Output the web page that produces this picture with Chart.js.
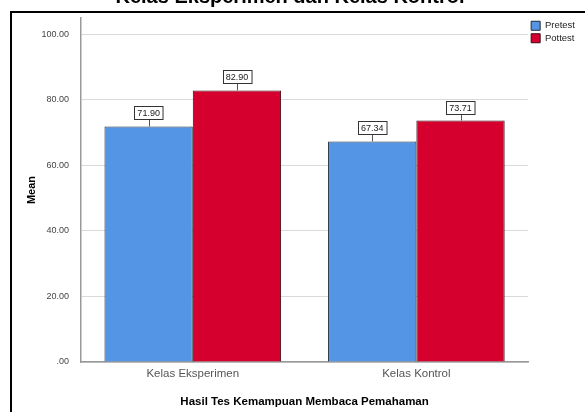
<!DOCTYPE html>
<html lang="en">
<head>
    <meta charset="UTF-8">
    <title>Kelas Eksperimen dan Kelas Kontrol</title>
    <script src="https://cdn.jsdelivr.net/npm/chart.js"></script>
    <style>
        html, body {
            margin: 0;
            padding: 0;
            background: #fff;
        }
        .wrap {
            width: 585px;
            height: 412px;
        }
    </style>
</head>
<body>
    <div class="wrap"><canvas id="meanChart" width="585" height="412"></canvas></div>
    <script>
        // values
        const groups = ['Kelas Eksperimen', 'Kelas Kontrol'];
        const pretest = [71.90, 67.34];
        const posttest = [82.90, 73.71];
        const seriesNames = ['Pretest', 'Pottest'];
        const yTicks = [0, 20, 40, 60, 80, 100];

        const FONT = 'Arial, "Liberation Sans", sans-serif';

        // outer frame + the title that got cut off at the top
        const framePlugin = {
            id: 'frame',
            beforeDraw(chart) {
                const ctx = chart.ctx;
                ctx.save();
                ctx.fillStyle = '#fff';
                ctx.fillRect(0, 0, chart.width, chart.height);
                ctx.strokeStyle = '#000';
                ctx.lineWidth = 2;
                ctx.strokeRect(11, 12, chart.width + 20, chart.height + 20);
                ctx.fillStyle = '#000';
                ctx.font = 'bold 20px ' + FONT;
                ctx.textAlign = 'center';
                ctx.textBaseline = 'alphabetic';
                ctx.fillText('Kelas Eksperimen dan Kelas Kontrol', 290, 3);
                ctx.restore();
            }
        };

        // boxed value labels with a small stem above each bar
        const valueLabels = {
            id: 'valueLabels',
            afterDatasetsDraw(chart) {
                const ctx = chart.ctx;
                ctx.save();
                ctx.font = '9px ' + FONT;
                ctx.textAlign = 'center';
                ctx.textBaseline = 'middle';
                chart.data.datasets.forEach((ds, i) => {
                    chart.getDatasetMeta(i).data.forEach((bar, j) => {
                        const txt = ds.data[j].toFixed(2);
                        const x = bar.x, top = bar.y;
                        const stem = 7, h = 13;
                        const w = ctx.measureText(txt).width + 6;
                        ctx.strokeStyle = '#555';
                        ctx.lineWidth = 1;
                        ctx.beginPath();
                        ctx.moveTo(Math.round(x) + 0.5, top);
                        ctx.lineTo(Math.round(x) + 0.5, top - stem);
                        ctx.stroke();
                        const bx = Math.round(x - w / 2) + 0.5;
                        const by = Math.round(top - stem - h) + 0.5;
                        ctx.fillStyle = '#fff';
                        ctx.fillRect(bx, by, w, h);
                        ctx.strokeStyle = '#333';
                        ctx.strokeRect(bx, by, w, h);
                        ctx.fillStyle = '#222';
                        ctx.fillText(txt, x, by + h / 2 + 0.5);
                    });
                });
                ctx.restore();
            }
        };

        new Chart(document.getElementById('meanChart').getContext('2d'), {
            type: 'bar',
            data: {
                labels: groups,
                datasets: [
                    { label: seriesNames[0], data: pretest, backgroundColor: '#5595E5', borderColor: '#1d2a3a', borderWidth: 1 },
                    { label: seriesNames[1], data: posttest, backgroundColor: '#D6002F', borderColor: '#3a0a14', borderWidth: 1 }
                ]
            },
            options: {
                responsive: false,
                animation: false,
                layout: { padding: { left: 11, top: 18, right: 0, bottom: 0 } },
                datasets: { bar: { categoryPercentage: 0.79, barPercentage: 1.0 } },
                plugins: {
                    tooltip: { enabled: false },
                    legend: {
                        position: 'right',
                        align: 'start',
                        maxWidth: 57,
                        labels: {
                            boxWidth: 9,
                            boxHeight: 9,
                            padding: 3,
                            color: '#222',
                            font: { family: FONT, size: 9.5, lineHeight: 1 }
                        }
                    }
                },
                scales: {
                    x: {
                        grid: { display: false, drawTicks: false },
                        border: { display: true, color: '#999', width: 1.5 },
                        ticks: { color: '#555', padding: 5, font: { family: FONT, size: 11.5 } },
                        title: {
                            display: true,
                            text: 'Hasil Tes Kemampuan Membaca Pemahaman',
                            color: '#000',
                            padding: { top: 0, bottom: 3 },
                            font: { family: FONT, size: 11.5, weight: 'bold' }
                        },
                        afterFit(scale) { scale.height = 50; }
                    },
                    y: {
                        min: 0,
                        max: 105,
                        afterBuildTicks(scale) {
                            scale.ticks = yTicks.map(v => ({ value: v }));
                        },
                        grid: { color: '#d9d9d9', drawTicks: false },
                        border: { display: true, color: '#999', width: 1.5 },
                        ticks: {
                            color: '#444',
                            padding: 12,
                            font: { family: FONT, size: 9 },
                            callback: v => v === 0 ? '.00' : v.toFixed(2)
                        },
                        title: {
                            display: true,
                            text: 'Mean',
                            color: '#000',
                            padding: { top: 14, bottom: 0 },
                            font: { family: FONT, size: 11, weight: 'bold' }
                        },
                        afterFit(scale) { scale.width = 70; }
                    }
                }
            },
            plugins: [framePlugin, valueLabels]
        });
    </script>
</body>
</html>
